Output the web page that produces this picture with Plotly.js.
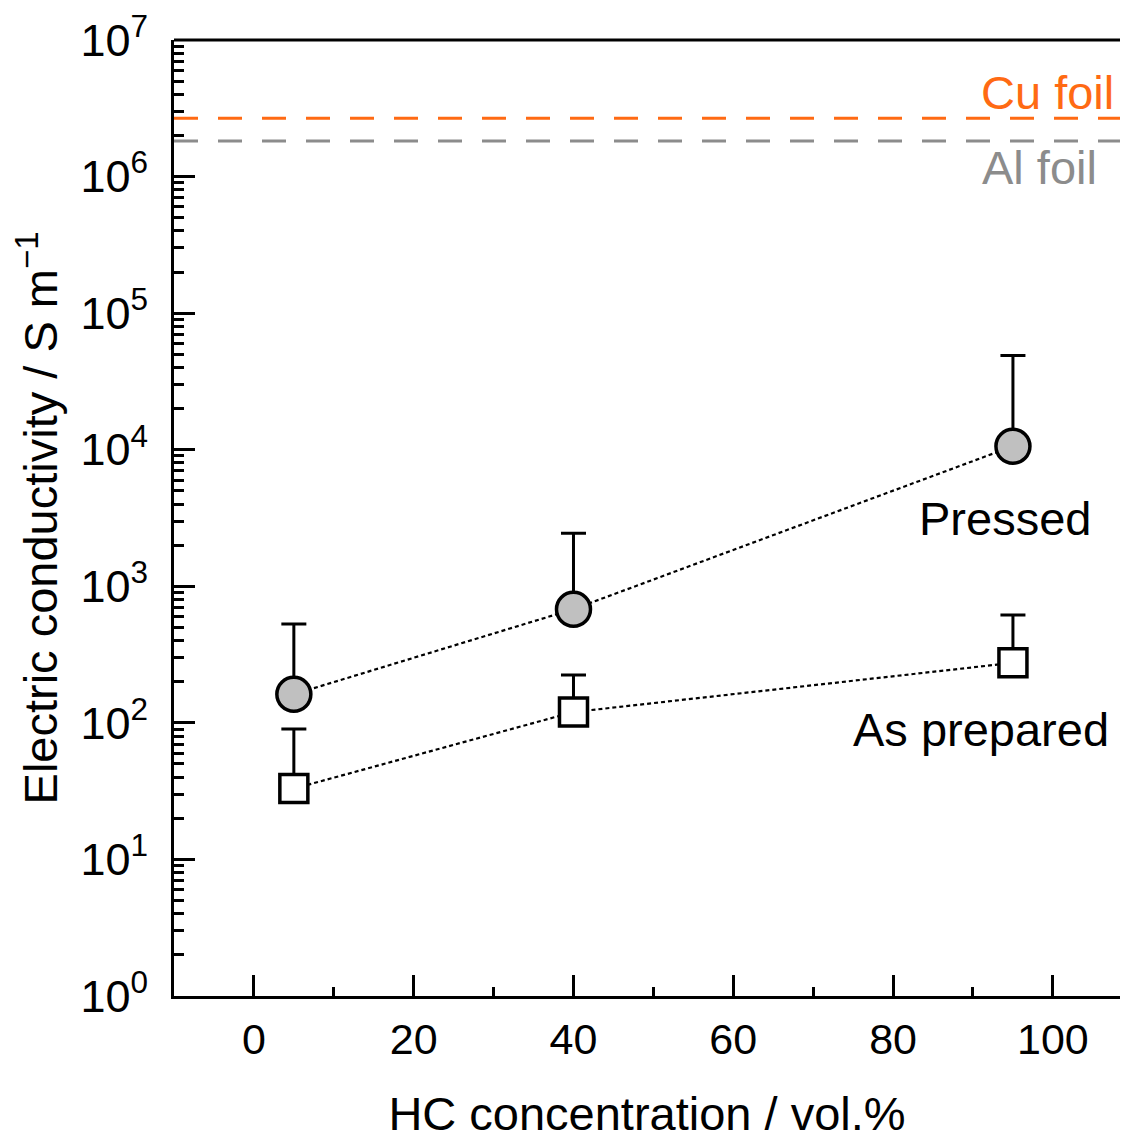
<!DOCTYPE html>
<html>
<head>
<meta charset="utf-8">
<script src="https://cdn.plot.ly/plotly-3.0.1.min.js"></script>
<style>
  html, body { margin: 0; padding: 0; background: #fff; }
  #chart { width: 1121px; height: 1140px; }
</style>
</head>
<body>
<div id="chart"></div>
<script>
// HC concentration (vol.%) of the measured samples
const hcConc = [5, 40, 95];

// Electric conductivity (S/m): mean values and upper error limits
const pressed = [162, 680, 10600];
const pressedUpper = [530, 2450, 49000];
const asPrepared = [33, 120, 275];
const asPreparedUpper = [90, 224, 615];

// Reference metal foils (S/m)
const foilNames = ['Cu foil', 'Al foil'];
const foilValues = [2.67e6, 1.82e6];
const foilColors = ['#ff6a13', '#8c8c8c'];

// Axis ticks
const xTickVals = [0, 20, 40, 60, 80, 100];
const xMinorVals = [10, 30, 50, 70, 90];
const yExponents = [0, 1, 2, 3, 4, 5, 6, 7];

const FONT = 'Arial, "Liberation Sans", sans-serif';

const yTickVals = yExponents.map(e => Math.pow(10, e));
const yTickText = yExponents.map(e => '10<sup>' + e + '</sup>');
const yMinorVals = [];
yExponents.slice(0, -1).forEach(e => {
  for (let m = 2; m <= 9; m++) yMinorVals.push(m * Math.pow(10, e));
});

const upperOffsets = (vals, upper) => upper.map((u, i) => u - vals[i]);

const traces = [
  {
    x: hcConc, y: asPrepared, name: 'As prepared',
    type: 'scatter', mode: 'lines+markers',
    line: { color: 'black', width: 2.2, dash: '4px,3px' },
    marker: { symbol: 'square', size: 28, color: 'white', line: { color: 'black', width: 3.5 } },
    error_y: { type: 'data', symmetric: false, array: upperOffsets(asPrepared, asPreparedUpper),
               arrayminus: asPrepared.map(() => 0), color: 'black', thickness: 3, width: 12.5 }
  },
  {
    x: hcConc, y: pressed, name: 'Pressed',
    type: 'scatter', mode: 'lines+markers',
    line: { color: 'black', width: 2.2, dash: '4px,3px' },
    marker: { symbol: 'circle', size: 34, color: '#c0c0c0', line: { color: 'black', width: 3.5 } },
    error_y: { type: 'data', symmetric: false, array: upperOffsets(pressed, pressedUpper),
               arrayminus: pressed.map(() => 0), color: 'black', thickness: 3, width: 12.5 }
  }
];

const shapes = foilValues.map((v, i) => ({
  type: 'line', xref: 'paper', x0: 0, x1: 1, yref: 'y', y0: v, y1: v,
  line: { color: foilColors[i], width: 3, dash: '24px,20px' }, layer: 'below'
}));
// top frame line
shapes.push({ type: 'line', xref: 'paper', yref: 'paper', x0: 0, x1: 1, y0: 1, y1: 1,
              line: { color: 'black', width: 3 } });

const annotations = [
  { x: 99.3, y: Math.log10(foilValues[0]) + 0.19, text: foilNames[0], color: foilColors[0] },
  { x: 98.3, y: Math.log10(foilValues[1]) - 0.19, text: foilNames[1], color: foilColors[1] },
  { x: 94.0, y: 3.50, text: 'Pressed', color: 'black' },
  { x: 91.0, y: 1.95, text: 'As prepared', color: 'black' }
].map(a => ({
  xref: 'x', yref: 'y', x: a.x, y: a.y, text: a.text, showarrow: false,
  xanchor: 'center', yanchor: 'middle',
  font: { family: FONT, size: 47, color: a.color }
}));

const axisCommon = {
  showline: true, linewidth: 3, linecolor: 'black', mirror: false,
  showgrid: false, zeroline: false,
  ticks: 'inside', ticklen: 21, tickwidth: 3, tickcolor: 'black'
};

const layout = {
  width: 1121, height: 1140,
  margin: { l: 174, r: 1, t: 40, b: 144 },
  paper_bgcolor: 'white', plot_bgcolor: 'white',
  showlegend: false,
  font: { family: FONT, color: 'black' },
  xaxis: Object.assign({}, axisCommon, {
    range: [-10, 108.4],
    tickmode: 'array', tickvals: xTickVals,
    tickfont: { family: FONT, size: 43, color: 'black' },
    minor: { tickmode: 'array', tickvals: xMinorVals, ticks: 'inside', ticklen: 9, tickwidth: 3, tickcolor: 'black', showgrid: false },
    ticklabelstandoff: 3,
    title: { text: 'HC concentration / vol.%', font: { family: FONT, size: 47, color: 'black' }, standoff: 62 }
  }),
  yaxis: Object.assign({}, axisCommon, {
    type: 'log', range: [0, 7],
    tickmode: 'array', tickvals: yTickVals, ticktext: yTickText,
    tickfont: { family: FONT, size: 45, color: 'black' },
    minor: { tickmode: 'array', tickvals: yMinorVals, ticks: 'inside', ticklen: 10, tickwidth: 3, tickcolor: 'black', showgrid: false },
    ticklabelstandoff: 14,
    title: { text: 'Electric conductivity / S m<sup>\u22121</sup>', font: { family: FONT, size: 47, color: 'black' }, standoff: 8 }
  }),
  shapes: shapes,
  annotations: annotations
};

Plotly.newPlot('chart', traces, layout, { staticPlot: true, displayModeBar: false });
</script>
</body>
</html>
